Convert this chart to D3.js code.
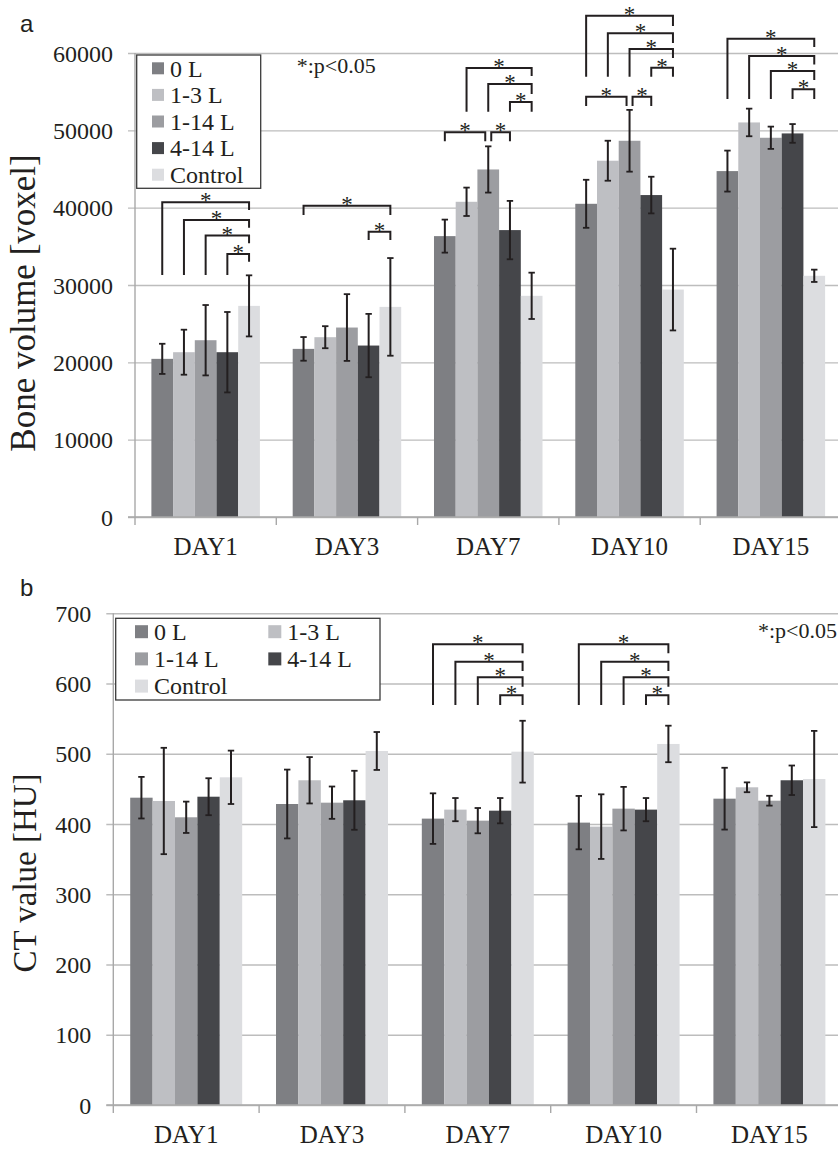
<!DOCTYPE html>
<html><head><meta charset="utf-8">
<script src="https://cdn.jsdelivr.net/npm/d3@7"></script>
<style>body{margin:0;background:#fff} svg{display:block} .serif{font-family:"Liberation Serif","Times New Roman",serif !important} .sans{font-family:"Liberation Sans",Arial,sans-serif !important}</style>
</head><body><svg id="c" width="838" height="1149"></svg>
<script>
// ---------- DATA ----------
const days = ["DAY1", "DAY3", "DAY7", "DAY10", "DAY15"];
const groups = ["0 L", "1-3 L", "1-14 L", "4-14 L", "Control"];
const groupColors = ["#7e7f83", "#bebfc3", "#9c9da1", "#45464a", "#dcdde0"];

const boneTicks = [0, 10000, 20000, 30000, 40000, 50000, 60000];
const ctTicks = [0, 100, 200, 300, 400, 500, 600, 700];

// rows = groups, columns = days
const boneMean = [
  [20450, 21740, 36320, 40500, 44730],
  [21310, 23250, 40760, 46070, 51020],
  [22860, 24500, 44940, 48650, 49040],
  [21310, 22170, 37100, 41630, 49600],
  [27300, 27170, 28600, 29410, 31190]
];
const boneErr = [
  [1950, 1530, 2135, 3105, 2650],
  [2910, 1425, 1835, 2585, 1785],
  [4550, 4315, 2990, 3995, 1440],
  [5200, 4095, 3775, 2370, 1210],
  [3950, 6315, 2995, 5285, 795]
];
const ctMean = [
  [437.5, 428.5, 407.7, 402.0, 436.1],
  [432.8, 462.3, 420.5, 396.3, 452.3],
  [409.6, 430.4, 404.8, 421.9, 433.2],
  [438.9, 433.8, 419.0, 420.5, 462.3],
  [466.5, 504.0, 503.0, 514.0, 464.1]
];
const ctErr = [
  [29.6, 49, 36, 38, 44],
  [75.7, 33, 16.5, 46, 7],
  [22.3, 23, 18, 31, 7],
  [26.3, 42, 18, 16.5, 21],
  [38, 27, 44, 26, 68.5]
];

// significance brackets: [day, fromGroup, toGroup, level, leftLegEnd, rightLegEnd] (data units)
const boneSig = [
  ["DAY1", 0, 4, 40700, 31300, 39700], ["DAY1", 1, 4, 38400, 31300, 37400],
  ["DAY1", 2, 4, 36400, 31300, 35400], ["DAY1", 3, 4, 34000, 31300, 33000],
  ["DAY3", 0, 4, 40250, 39050, 39050], ["DAY3", 3, 4, 36890, 35820, 35820],
  ["DAY7", 0, 2, 49740, 48580, 48580], ["DAY7", 2, 3, 49740, 48580, 48580],
  ["DAY7", 1, 4, 58060, 52410, 57030], ["DAY7", 2, 4, 55990, 52410, 54690],
  ["DAY7", 3, 4, 53660, 52410, 52410],
  ["DAY10", 0, 2, 54350, 53140, 53140], ["DAY10", 2, 3, 54350, 53140, 53140],
  ["DAY10", 0, 4, 64820, 56930, 63490], ["DAY10", 1, 4, 62540, 56930, 61290],
  ["DAY10", 2, 4, 60510, 56930, 59350], ["DAY10", 3, 4, 58100, 56930, 56930],
  ["DAY15", 0, 4, 61850, 54050, 60770], ["DAY15", 1, 4, 59610, 54050, 58510],
  ["DAY15", 2, 4, 57670, 54050, 56510], ["DAY15", 3, 4, 55300, 54050, 54050]
];
const ctSig = [
  ["DAY7", 0, 4, 655.9, 569.4, 643.2], ["DAY7", 1, 4, 631.1, 569.4, 617.9],
  ["DAY7", 2, 4, 608.9, 569.4, 595.6], ["DAY7", 3, 4, 583.3, 569.4, 569.4],
  ["DAY10", 0, 4, 655.9, 569.4, 643.2], ["DAY10", 1, 4, 631.1, 569.4, 617.9],
  ["DAY10", 2, 4, 608.9, 569.4, 595.6], ["DAY10", 3, 4, 583.3, 569.4, 569.4]
];

// ---------- DRAW ----------
const svg = d3.select("#c");
const INK = "#231f20";

function panel(o) {
  const g = svg.append("g");
  const x0 = d3.scaleBand().domain(days).range([o.left, o.right]).padding(0);
  const bw = x0.bandwidth();
  const gap = bw * 0.116;
  const x1 = d3.scaleBand().domain(d3.range(groups.length)).range([gap, bw - gap]).padding(0);
  const y = d3.scaleLinear().domain([0, o.max]).range([o.bottom, o.top]);

  // gridlines + y ticks
  const yAxis = d3.axisLeft(y).tickValues(o.ticks).tickSize(0).tickPadding(0).tickFormat(d3.format("d"));
  const ya = g.append("g").attr("transform", `translate(${o.left - 7},0)`).call(yAxis);
  ya.attr("font-family", null).attr("font-size", null);
  ya.select(".domain").remove();
  ya.selectAll(".tick line").attr("stroke", "#bdbdbd").attr("stroke-width", 1.4).attr("x1", 0).attr("x2", o.right - o.left + 7);
  ya.selectAll(".tick text").attr("class", "serif").style("font-size", "24px").attr("fill", INK).attr("x", -15).attr("dy", "0.34em");

  // y axis line
  g.append("line").attr("x1", o.left).attr("x2", o.left).attr("y1", o.top).attr("y2", o.bottom)
    .attr("stroke", "#a8a8a8").attr("stroke-width", 1.4);

  // bars
  groups.forEach((gr, gi) => {
    g.append("g").selectAll("rect").data(days).join("rect")
      .attr("x", d => x0(d) + x1(gi))
      .attr("width", x1.bandwidth())
      .attr("y", (d, di) => y(o.mean[gi][di]))
      .attr("height", (d, di) => o.bottom - y(o.mean[gi][di]))
      .attr("fill", groupColors[gi]);
  });

  // x axis line + category ticks
  g.append("line").attr("x1", o.left - 7).attr("x2", o.right).attr("y1", o.bottom).attr("y2", o.bottom)
    .attr("stroke", "#a8a8a8").attr("stroke-width", 1.4);
  const xa = g.append("g").attr("transform", `translate(0,${o.bottom})`)
    .call(d3.axisBottom(x0).tickSize(0).tickPadding(o.labelPad));
  xa.attr("font-family", null).attr("font-size", null);
  xa.select(".domain").remove();
  xa.selectAll(".tick text").attr("class", "serif").style("font-size", "25px").attr("fill", INK);
  g.selectAll(".xtick").data(days).join("line").attr("class", "xtick")
    .attr("x1", d => x0(d)).attr("x2", d => x0(d)).attr("y1", o.bottom).attr("y2", o.bottom + 8)
    .attr("stroke", "#a8a8a8").attr("stroke-width", 1.4);

  // error bars
  const cx = (d, gi) => x0(d) + x1(gi) + x1.bandwidth() / 2;
  groups.forEach((gr, gi) => {
    days.forEach((d, di) => {
      const m = o.mean[gi][di], e = o.err[gi][di];
      const xc = cx(d, gi), yt = y(m + e), yb = y(m - e);
      g.append("line").attr("x1", xc).attr("x2", xc).attr("y1", yt).attr("y2", yb).attr("stroke", INK).attr("stroke-width", 2);
      [yt, yb].forEach(yy => g.append("line").attr("x1", xc - 3.2).attr("x2", xc + 3.2).attr("y1", yy).attr("y2", yy).attr("stroke", INK).attr("stroke-width", 1.8));
    });
  });

  // significance brackets
  o.sig.forEach(s => {
    const [d, a, b, lv, le, re] = s;
    let xa_ = cx(d, a), xb_ = cx(d, b);
    if (o.sig.some(t => t !== s && t[0] === d && t[3] === lv && t[1] === b)) xb_ -= 3;
    if (o.sig.some(t => t !== s && t[0] === d && t[3] === lv && t[2] === a)) xa_ += 3;
    const yl = y(lv);
    g.append("path")
      .attr("d", `M${xa_},${y(le)}V${yl}H${xb_}V${y(re)}`)
      .attr("fill", "none").attr("stroke", INK).attr("stroke-width", 2);
    g.append("text").attr("x", (xa_ + xb_) / 2).attr("y", yl + 6).attr("text-anchor", "middle")
      .attr("class", "serif").style("font-size", "23px").attr("fill", INK).text("*");
  });

  // y title
  g.append("text").attr("transform", `translate(${o.titleX},${o.titleY}) rotate(-90)`)
    .attr("text-anchor", "middle").attr("class", "serif").style("font-size", o.titleSize + "px").attr("fill", INK).text(o.title);

  // panel letter
  g.append("text").attr("x", 20).attr("y", o.letterY).attr("class", "sans").style("font-size", "24px").attr("fill", INK).text(o.letter);

  // legend
  const L = o.legend;
  g.append("rect").attr("x", L.x).attr("y", L.y).attr("width", L.w).attr("height", L.h)
    .attr("fill", "#fff").attr("stroke", "#3a3a3a").attr("stroke-width", 1.3);
  groups.forEach((gr, gi) => {
    const col = gi % L.cols, row = Math.floor(gi / L.cols);
    const sx = L.x + L.padX + col * L.colW, sy = L.y + L.padY + row * L.rowH;
    g.append("rect").attr("x", sx).attr("y", sy - L.sq / 2).attr("width", L.sq).attr("height", L.sq).attr("fill", groupColors[gi]);
    g.append("text").attr("x", sx + L.sq + 6).attr("y", sy + 8.3).attr("class", "serif").style("font-size", "24px").attr("fill", INK).text(gr);
  });

  // p note
  g.append("text").attr("x", o.pnote.x).attr("y", o.pnote.y).attr("text-anchor", o.pnote.anchor)
    .attr("class", "serif").style("font-size", "22px").attr("fill", INK).text("*:p<0.05");
}

panel({
  left: 135, right: 841.5, top: 53, bottom: 517, max: 60000, ticks: boneTicks,
  mean: boneMean, err: boneErr, sig: boneSig, labelPad: 20,
  title: "Bone volume [voxel]", titleSize: 35, titleX: 35, titleY: 303, letter: "a", letterY: 32,
  legend: { x: 136.7, y: 55, w: 124, h: 133.3, cols: 1, padX: 15.3, padY: 13.3, colW: 0, rowH: 26.6, sq: 12 },
  pnote: { x: 296.7, y: 73, anchor: "start" }
});
panel({
  left: 113.3, right: 842.3, top: 613.3, bottom: 1105, max: 700, ticks: ctTicks,
  mean: ctMean, err: ctErr, sig: ctSig, labelPad: 20,
  title: "CT value [HU]", titleSize: 33, titleX: 36, titleY: 873, letter: "b", letterY: 595.5,
  legend: { x: 115.7, y: 618.3, w: 264.3, h: 81.7, cols: 2, padX: 19.3, padY: 13.4, colW: 133.3, rowH: 27.2, sq: 13 },
  pnote: { x: 837, y: 638, anchor: "end" }
});
</script></body></html>
